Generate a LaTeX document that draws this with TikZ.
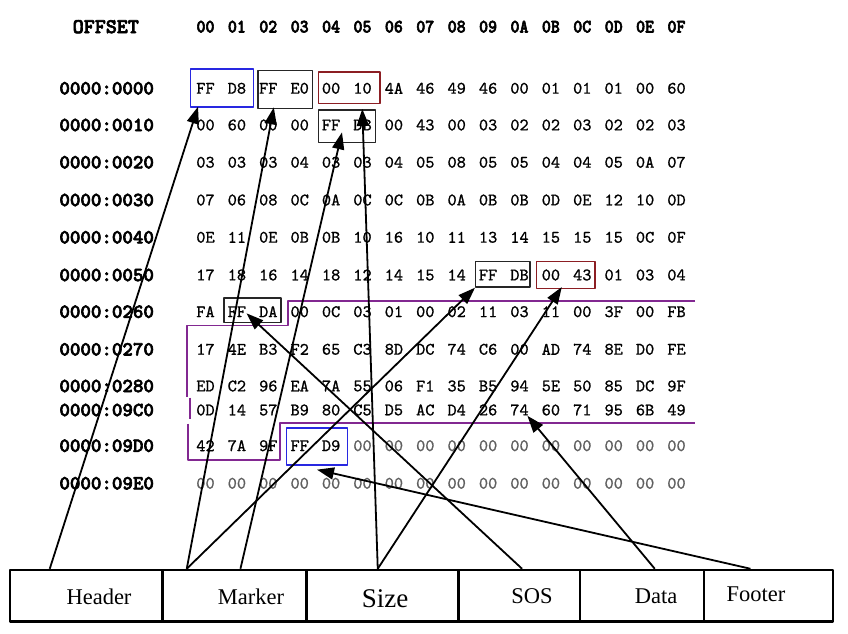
\documentclass[tikz,border=0pt]{standalone}
\usepackage{fontspec}
\setmainfont{Liberation Serif}
\newfontfamily\hexfont[Extension=.otf, FakeBold=1]{lmmono10-regular}
\newfontfamily\labfont[Extension=.otf, FakeBold=3]{lmmonolt10-bold}
\newfontfamily\colfont[Extension=.otf, FakeBold=3, FakeStretch=0.9]{lmmonolt10-bold}
\usetikzlibrary{arrows.meta}
\definecolor{jpgblue}{RGB}{40,40,225}
\definecolor{jpgred}{RGB}{140,30,35}
\definecolor{jpgpurple}{RGB}{130,40,145}
\definecolor{jpggrey}{RGB}{95,95,95}
\tikzset{
	hexbyte/.style={font=\hexfont\fontsize{17.5}{17.5}\selectfont, inner sep=0pt},
	offlab/.style={font=\labfont\fontsize{20}{20}\selectfont, inner sep=0pt},
	colhead/.style={font=\colfont\fontsize{19}{19}\selectfont, inner sep=0pt},
	hexbox/.style={draw=#1, line width=1.3pt, inner sep=0pt},
	field/.style={draw, line width=2.5pt, minimum height=51.7pt, inner sep=0pt},
	fieldtext/.style={anchor=base, inner sep=0pt, font=\fontsize{22.5}{22.5}\selectfont},
	datazone/.style={draw=jpgpurple, line width=1.8pt},
	pointer/.style={line width=1.8pt, -{Triangle[length=17pt,width=12pt]}},
}
\begin{document}
\begin{tikzpicture}[x=1pt, y=-1pt, line join=round]
	\useasboundingbox (0,0) rectangle (848,633);
	% column heads
	\node[offlab, font=\labfont\fontsize{21}{21}\selectfont] (offset) at (105.8,26.7) {OFFSET};
	\foreach \h [count=\c from 0] in {00,01,02,03,04,05,06,07,08,09,0A,0B,0C,0D,0E,0F}
		\node[colhead] (c\c) at ({205.5+31.4*\c},26.7) {\h};
	% dump rows: label / y / first grey byte / bytes
	\foreach \lab/\y/\g/\bytes [count=\r from 0] in {
		0000:0000/88.3/16/{FF,D8,FF,E0,00,10,4A,46,49,46,00,01,01,01,00,60},
		0000:0010/125/16/{00,60,00,00,FF,DB,00,43,00,03,02,02,03,02,02,03},
		0000:0020/162.3/16/{03,03,03,04,03,03,04,05,08,05,05,04,04,05,0A,07},
		0000:0030/200/16/{07,06,08,0C,0A,0C,0C,0B,0A,0B,0B,0D,0E,12,10,0D},
		0000:0040/237.3/16/{0E,11,0E,0B,0B,10,16,10,11,13,14,15,15,15,0C,0F},
		0000:0050/275/16/{17,18,16,14,18,12,14,15,14,FF,DB,00,43,01,03,04},
		0000:0260/311.7/16/{FA,FF,DA,00,0C,03,01,00,02,11,03,11,00,3F,00,FB},
		0000:0270/349.3/16/{17,4E,B3,F2,65,C3,8D,DC,74,C6,00,AD,74,8E,D0,FE},
		0000:0280/386/16/{ED,C2,96,EA,7A,55,06,F1,35,B5,94,5E,50,85,DC,9F},
		0000:09C0/410/16/{0D,14,57,B9,80,C5,D5,AC,D4,26,74,60,71,95,6B,49},
		0000:09D0/445.7/5/{42,7A,9F,FF,D9,00,00,00,00,00,00,00,00,00,00,00},
		0000:09E0/483.3/0/{00,00,00,00,00,00,00,00,00,00,00,00,00,00,00,00}} {
		\node[offlab] (o\r) at (106.7,\y) {\lab};
		\foreach \b [count=\c from 0] in \bytes {
			\ifnum\c<\g \def\bcol{black}\else\def\bcol{jpggrey}\fi
			\node[hexbyte, text=\bcol] (b\r-\c) at ({205.5+31.4*\c},\y) {\b};
		}
	}
	% marked bytes
	\node[hexbox=jpgblue, minimum width=62.6pt, minimum height=38pt] (soi) at (222,88) {};
	\node[hexbox=black!85, minimum width=54.7pt, minimum height=38pt] (app0) at (285.3,89.7) {};
	\node[hexbox=jpgred, minimum width=61.3pt, minimum height=31.7pt] (len0) at (349.3,87.9) {};
	\node[hexbox=black!85, minimum width=56.6pt, minimum height=32.7pt] (dqt) at (347,126.3) {};
	\node[hexbox=black!85, minimum width=54.3pt, minimum height=25.7pt] (dqt2) at (502.8,274.2) {};
	\node[hexbox=jpgred, minimum width=58.3pt, minimum height=26.7pt] (len1) at (565.8,275) {};
	\node[hexbox=black!85, minimum width=57pt, minimum height=24.7pt] (sos) at (252.5,310.3) {};
	\node[hexbox=jpgblue, minimum width=60.6pt, minimum height=37pt] (eoi) at (317,446.5) {};
	% compressed data
	\draw[datazone] (695,301) -| (288,325.5) -| (187.3,397);
	\draw[datazone] (190,397.5) -- (190,418.5);
	\draw[datazone] (188.3,423.5) |- (280,460) |- (695,423);
	% fields
	\node[field, minimum width=152.3pt] (fhead) at (86.15,595.85) {};
	\node[field, minimum width=144pt] (fmark) at (234.3,595.85) {};
	\node[field, minimum width=152pt] (fsize) at (382.3,595.85) {};
	\node[field, minimum width=121.7pt] (fsos) at (519.15,595.85) {};
	\node[field, minimum width=124pt] (fdata) at (642,595.85) {};
	\node[field, minimum width=129pt] (ffoot) at (768.5,595.85) {};
	\node[fieldtext] (thead) at (99,604) {Header};
	\node[fieldtext] (tmark) at (251,604) {Marker};
	\node[fieldtext, font=\fontsize{27}{27}\selectfont] (tsize) at (385,607) {Size};
	\node[fieldtext] (tsos) at (532,603) {SOS};
	\node[fieldtext] (tdata) at (656,603) {Data};
	\node[fieldtext] (tfoot) at (756,601.5) {Footer};
	% pointers
	\draw[pointer] ([xshift=41pt]fhead.north west) -- ([xshift=8pt,yshift=1pt]soi.south west);
	\draw[pointer] ([xshift=25.7pt]fmark.north west) -- ([xshift=16.5pt,yshift=2pt]app0.south west);
	\draw[pointer] ([xshift=25.7pt]fmark.north west) -- (dqt2.south west);
	\draw[pointer] ([xshift=79.4pt]fmark.north west) -- ([xshift=-5pt,yshift=-6pt]dqt.center);
	\draw[pointer] ([xshift=72.7pt]fsize.north west) -- ([xshift=13pt,yshift=-4.5pt]len0.south);
	\draw[pointer] ([xshift=72.7pt]fsize.north west) -- ([xshift=-4pt,yshift=2pt]len1.south);
	\draw[pointer] ([xshift=65pt]fsos.north west) -- ([xshift=-6pt,yshift=-3pt]sos.center);
	\draw[pointer] ([xshift=76pt]fdata.north west) -- ([xshift=-1.5pt]b9-10.south east);
	\draw[pointer] ([xshift=47.7pt]ffoot.north west) -- ([yshift=-4pt]eoi.south);
\end{tikzpicture}
\end{document}
